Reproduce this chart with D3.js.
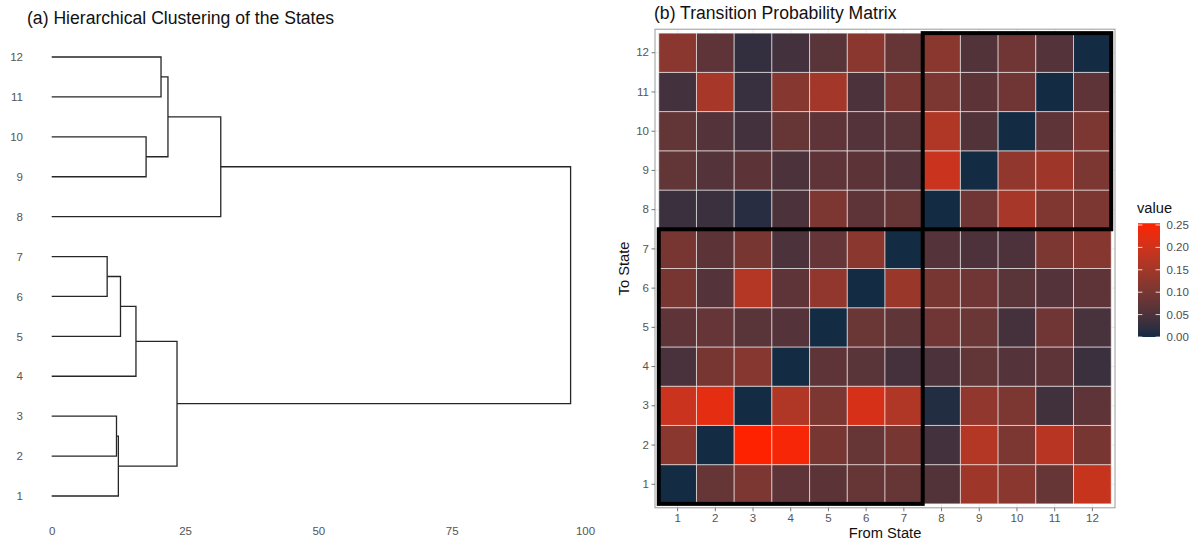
<!DOCTYPE html>
<html>
<head>
<meta charset="utf-8">
<script src="https://cdn.jsdelivr.net/npm/d3@7"></script>
<style>
  body { margin: 0; background: #fff; }
  svg { display: block; }
  text { font-family: "Liberation Sans", Arial, Helvetica, sans-serif; }
</style>
</head>
<body>
<svg id="chart" width="1193" height="543"></svg>
<script>
// ---- data ----------------------------------------------------------------
const states = d3.range(1, 13);
const dendroTicks = [0, 25, 50, 75, 100];

// hclust-style merge table: negative = leaf state, positive = earlier merge (1-based)
const mergePairs = [
  [-6, -7], [-2, -3], [-1, 2], [-5, 1], [-4, 4],
  [-9, -10], [-11, -12], [6, 7], [3, 5], [-8, 8], [9, 10]
];
const mergeHeights = [10.4, 12.15, 12.5, 12.9, 15.8, 17.7, 20.5, 21.8, 23.5, 31.7, 97.3];

const clusterA = [1, 2, 3, 4, 5, 6, 7];
const clusterB = [8, 9, 10, 11, 12];

// transition[to - 1][from - 1]
const transition = [
  [0.000, 0.080, 0.105, 0.072, 0.068, 0.080, 0.080, 0.058, 0.145, 0.120, 0.080, 0.190],
  [0.120, 0.000, 0.254, 0.245, 0.100, 0.080, 0.100, 0.040, 0.170, 0.105, 0.175, 0.100],
  [0.195, 0.225, 0.000, 0.165, 0.105, 0.210, 0.165, 0.010, 0.130, 0.105, 0.038, 0.070],
  [0.048, 0.100, 0.115, 0.000, 0.072, 0.065, 0.043, 0.050, 0.075, 0.060, 0.070, 0.032],
  [0.070, 0.078, 0.065, 0.060, 0.000, 0.085, 0.073, 0.090, 0.085, 0.043, 0.090, 0.046],
  [0.100, 0.060, 0.170, 0.072, 0.130, 0.000, 0.140, 0.100, 0.090, 0.065, 0.060, 0.070],
  [0.100, 0.068, 0.100, 0.050, 0.078, 0.120, 0.000, 0.060, 0.052, 0.052, 0.105, 0.115],
  [0.032, 0.032, 0.015, 0.050, 0.105, 0.072, 0.080, 0.000, 0.090, 0.155, 0.110, 0.105],
  [0.075, 0.060, 0.068, 0.050, 0.072, 0.068, 0.060, 0.195, 0.000, 0.130, 0.145, 0.105],
  [0.075, 0.060, 0.040, 0.080, 0.072, 0.060, 0.065, 0.165, 0.058, 0.000, 0.072, 0.105],
  [0.040, 0.155, 0.030, 0.115, 0.150, 0.050, 0.100, 0.105, 0.068, 0.090, 0.000, 0.072],
  [0.120, 0.070, 0.025, 0.040, 0.065, 0.120, 0.080, 0.120, 0.058, 0.090, 0.060, 0.000]
];

const legendTicks = [0, 0.05, 0.10, 0.15, 0.20, 0.25];

// ---- setup ---------------------------------------------------------------
const svg = d3.select("#chart");
svg.append("rect").attr("width", 1193).attr("height", 543).attr("fill", "#fff");

const tickText = "#555555";
const tickSize = 11.5;
const fontFam = "Liberation Sans, Arial, sans-serif";

// ---- (a) dendrogram --------------------------------------------------------
const dx = d3.scaleLinear().domain([0, 100]).range([51.7, 585]);
const dy = d3.scaleLinear().domain([1, 12]).range([496, 57]);

function build(ref) {
  if (ref < 0) return { state: -ref, height: 0 };
  const [a, b] = mergePairs[ref - 1];
  return { height: mergeHeights[ref - 1], children: [build(a), build(b)] };
}
const root = d3.hierarchy(build(mergePairs.length));
root.eachAfter(n => {
  n.py = n.children ? d3.mean(n.children, c => c.py) : dy(n.data.state);
  n.px = dx(n.data.height);
});

const gA = svg.append("g");
gA.selectAll("path.link")
  .data(root.descendants().filter(n => n.children))
  .join("path")
  .attr("class", "link")
  .attr("fill", "none")
  .attr("stroke", "#262626")
  .attr("stroke-width", 1.3)
  .attr("d", n => {
    const [c0, c1] = n.children;
    return `M${c0.px},${c0.py}H${n.px}V${c1.py}H${c1.px}`;
  });

const axA = gA.append("g")
  .attr("transform", "translate(0,524)")
  .call(d3.axisBottom(dx).tickValues(dendroTicks).tickSize(0).tickPadding(3));
axA.select(".domain").remove();
axA.selectAll("text").attr("font-size", tickSize).attr("fill", tickText).attr("font-family", fontFam);

const ayA = gA.append("g")
  .attr("transform", "translate(23,0)")
  .call(d3.axisLeft(dy).tickValues(states).tickFormat(d3.format("d")).tickSize(0).tickPadding(0));
ayA.select(".domain").remove();
ayA.selectAll("text").attr("font-size", tickSize).attr("fill", tickText).attr("font-family", fontFam);

svg.append("text")
  .attr("x", 27).attr("y", 24)
  .attr("font-size", 17.6).attr("fill", "#111")
  .text("(a) Hierarchical Clustering of the States");

// ---- (b) heatmap -----------------------------------------------------------
const hx = d3.scaleBand().domain(states).range([655, 1115]).paddingInner(0).paddingOuter(0.1);
const hy = d3.scaleBand().domain(states.slice().reverse()).range([29.2, 507.8]).paddingInner(0).paddingOuter(0.1);

const cells = [];
transition.forEach((row, i) => row.forEach((v, j) => cells.push({ to: i + 1, from: j + 1, value: v })));
const vExtent = d3.extent(cells, d => d.value);
const colour = d3.scaleLinear().domain(vExtent).range(["#132B43", "#FF2200"]).interpolate(d3.interpolateLab);

const gB = svg.append("g");
// panel grid
gB.append("g").selectAll("line.gx").data(states).join("line")
  .attr("x1", d => hx(d) + hx.bandwidth() / 2).attr("x2", d => hx(d) + hx.bandwidth() / 2)
  .attr("y1", 29.2).attr("y2", 507.8).attr("stroke", "#ebebeb");
gB.append("g").selectAll("line.gy").data(states).join("line")
  .attr("y1", d => hy(d) + hy.bandwidth() / 2).attr("y2", d => hy(d) + hy.bandwidth() / 2)
  .attr("x1", 655).attr("x2", 1115).attr("stroke", "#ebebeb");

gB.append("g").selectAll("rect.cell").data(cells).join("rect")
  .attr("class", "cell")
  .attr("x", d => hx(d.from)).attr("y", d => hy(d.to))
  .attr("width", hx.bandwidth()).attr("height", hy.bandwidth())
  .attr("fill", d => colour(d.value))
  .attr("stroke", "rgba(255,255,255,0.55)").attr("stroke-width", 1);

// cluster blocks
gB.append("g").selectAll("rect.block").data([clusterA, clusterB]).join("rect")
  .attr("class", "block")
  .attr("x", c => hx(d3.min(c)))
  .attr("width", c => hx(d3.max(c)) + hx.bandwidth() - hx(d3.min(c)))
  .attr("y", c => hy(d3.max(c)))
  .attr("height", c => hy(d3.min(c)) + hy.bandwidth() - hy(d3.max(c)))
  .attr("fill", "none").attr("stroke", "#000").attr("stroke-width", 4);

// panel border
gB.append("rect").attr("x", 655).attr("y", 29.2).attr("width", 460).attr("height", 478.6)
  .attr("fill", "none").attr("stroke", "#9a9a9a").attr("stroke-width", 1);

const axB = gB.append("g").attr("transform", "translate(0,507.8)")
  .call(d3.axisBottom(hx).tickSize(3.5).tickPadding(2.5));
axB.select(".domain").remove();
axB.selectAll("line").attr("stroke", "#777");
axB.selectAll("text").attr("font-size", tickSize).attr("fill", tickText).attr("font-family", fontFam);

const ayB = gB.append("g").attr("transform", "translate(655,0)")
  .call(d3.axisLeft(hy).tickSize(3.5).tickPadding(2.5));
ayB.select(".domain").remove();
ayB.selectAll("line").attr("stroke", "#777");
ayB.selectAll("text").attr("font-size", tickSize).attr("fill", tickText).attr("font-family", fontFam);

svg.append("text")
  .attr("x", 654).attr("y", 19)
  .attr("font-size", 17.6).attr("fill", "#111")
  .text("(b) Transition Probability Matrix");

svg.append("text")
  .attr("x", 885).attr("y", 538).attr("text-anchor", "middle")
  .attr("font-size", 14.7).attr("fill", "#111")
  .text("From State");

svg.append("text")
  .attr("transform", "translate(629,268.5) rotate(-90)").attr("text-anchor", "middle")
  .attr("font-size", 14.7).attr("fill", "#111")
  .text("To State");

// ---- legend ---------------------------------------------------------------
const ly = d3.scaleLinear().domain([0, 0.25]).range([337, 225]);
const grad = svg.append("defs").append("linearGradient")
  .attr("id", "valueGrad").attr("x1", 0).attr("y1", 1).attr("x2", 0).attr("y2", 0);
d3.range(0, 1.0001, 0.05).forEach(t => {
  grad.append("stop").attr("offset", t)
    .attr("stop-color", colour(vExtent[0] + t * (vExtent[1] - vExtent[0])));
});
const barX = 1138, barW = 22;
svg.append("rect")
  .attr("x", barX).attr("y", ly(vExtent[1]))
  .attr("width", barW).attr("height", ly(vExtent[0]) - ly(vExtent[1]))
  .attr("fill", "url(#valueGrad)");
const lg = svg.append("g");
lg.selectAll("line.tl").data(legendTicks).join("line")
  .attr("x1", barX).attr("x2", barX + 4.4)
  .attr("y1", d => ly(d)).attr("y2", d => ly(d))
  .attr("stroke", "#fff").attr("stroke-opacity", 0.8);
lg.selectAll("line.tr").data(legendTicks).join("line")
  .attr("x1", barX + barW - 4.4).attr("x2", barX + barW)
  .attr("y1", d => ly(d)).attr("y2", d => ly(d))
  .attr("stroke", "#fff").attr("stroke-opacity", 0.8);
lg.selectAll("text").data(legendTicks).join("text")
  .attr("x", 1166.5).attr("y", d => ly(d)).attr("dy", "0.35em")
  .attr("font-size", tickSize).attr("fill", "#4d4d4d")
  .text(d3.format(".2f"));
svg.append("text")
  .attr("x", 1137).attr("y", 213)
  .attr("font-size", 14.7).attr("fill", "#111")
  .text("value");
</script>
</body>
</html>
